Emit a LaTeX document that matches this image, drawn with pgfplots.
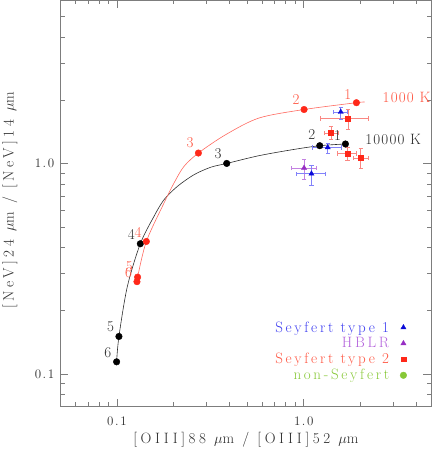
\documentclass[border=0pt]{standalone}
\usepackage{fontspec}
\setmainfont{Latin Modern Roman}[LetterSpace=24]
\usepackage{pgfplots}
\pgfplotsset{compat=1.18}
\usetikzlibrary{calc}

\definecolor{axisgrey}{RGB}{125,125,125}
\definecolor{textgrey}{RGB}{45,45,45}
\definecolor{hotred}{RGB}{255,40,25}
\definecolor{redtxt}{RGB}{255,85,65}
\definecolor{redline}{RGB}{255,105,95}
\definecolor{redbar}{RGB}{250,135,130}
\definecolor{sey1}{RGB}{10,10,215}
\definecolor{sey1txt}{RGB}{60,60,240}
\definecolor{sey1bar}{RGB}{130,130,250}
\definecolor{hblr}{RGB}{150,45,195}
\definecolor{hblrtxt}{RGB}{180,100,220}
\definecolor{hblrbar}{RGB}{195,130,225}
\definecolor{nonsey}{RGB}{135,200,55}

\newcommand{\lbfont}{\fontsize{15}{18}\selectfont}

\begin{document}
\begin{tikzpicture}[font=\lbfont]
\begin{axis}[
    xmode=log, ymode=log,
    scale only axis,
    width=370.3pt, height=406.7pt,
    xmin=0.05, xmax=4.8,
    ymin=0.07, ymax=6,
    xtick={0.1,1}, xticklabels={0.1,1.0},
    ytick={0.1,1}, yticklabels={0.1,1.0},
    minor xtick={0.06,0.07,0.08,0.09,0.2,0.3,0.4,0.5,0.6,0.7,0.8,0.9,2,3,4},
    minor ytick={0.08,0.09,0.2,0.3,0.4,0.5,0.6,0.7,0.8,0.9,2,3,4,5},
    axis line style={axisgrey, line width=0.8pt},
    tick style={axisgrey, line width=0.6pt},
    major tick length=7.7pt, minor tick length=4.3pt,
    tick label style={font=\fontsize{13}{15}\selectfont\addfontfeatures{LetterSpace=12}, textgrey},
    xticklabel style={yshift=-7pt},
    yticklabel style={xshift=-3pt},
    clip=false,
    legend cell align=right,
    legend plot pos=right,
    legend style={draw=none, fill=none, at={(0.935,0.057)}, anchor=south east,
                  inner sep=0pt, row sep=0pt, column sep=9pt,
                  nodes={font=\lbfont\addfontfeatures{LetterSpace=18}}},
]

  % model curves
  \addplot[textgrey, line width=0.6pt, smooth, tension=0.5, forget plot] coordinates {
    (0.0996,0.1144) (0.1025,0.151) (0.1137,0.261) (0.1334,0.4165) (0.1578,0.5615)
    (0.1786,0.674) (0.2106,0.780) (0.2585,0.8864) (0.3176,0.962) (0.387,1.003)
    (0.576,1.092) (0.870,1.166) (1.218,1.218) (1.672,1.241)
  };
  \addplot[redline, line width=0.6pt, smooth, tension=0.5, forget plot] coordinates {
    (0.128,0.275) (0.129,0.289) (0.1437,0.427) (0.1786,0.650) (0.202,0.809)
    (0.2285,0.971) (0.273,1.124) (0.382,1.374) (0.576,1.649) (1.004,1.81)
    (1.915,1.95) (2.12,1.965)
  };

  % model grid points
  \addplot[only marks, mark=*, mark size=3.3pt, black, forget plot] coordinates {
    (1.672,1.241) (1.218,1.218) (0.387,1.003) (0.1334,0.4165) (0.1025,0.151) (0.0996,0.1144)
  };
  \addplot[only marks, mark=*, mark size=3.3pt, hotred, forget plot] coordinates {
    (1.915,1.95) (1.004,1.81) (0.273,1.124) (0.1437,0.427) (0.129,0.289) (0.128,0.275)
  };

  % Seyfert type 2
  \addplot[only marks, mark=square*, mark size=2.4pt, hotred, forget plot,
    error bars/.cd, x dir=both, x explicit, y dir=both, y explicit,
    error bar style={redbar, line width=0.6pt},
    error mark options={rotate=90, redbar, mark size=2.2pt, line width=0.6pt}]
    coordinates {
    (1.727,1.642) += (0.502,0.18) -= (0.504,0.18)
    (1.40,1.40)   += (0.127,0.10) -= (0.115,0.10)
    (1.714,1.116) += (0.19,0.08)  -= (0.2,0.08)
    (2.02,1.064)  += (0.2,0.117)  -= (0.18,0.117)
  };
  % HBLR
  \addplot[only marks, mark=triangle*, mark size=3pt, hblr, forget plot,
    error bars/.cd, x dir=both, x explicit, y dir=both, y explicit,
    error bar style={hblrbar, line width=0.6pt},
    error mark options={rotate=90, hblrbar, mark size=2.2pt, line width=0.6pt}]
    coordinates {
    (1.004,0.954) += (0.166,0.099) -= (0.145,0.115)
  };
  % Seyfert type 1
  \addplot[only marks, mark=triangle*, mark size=3pt, sey1, forget plot,
    error bars/.cd, x dir=both, x explicit, y dir=both, y explicit,
    error bar style={sey1bar, line width=0.6pt},
    error mark options={rotate=90, sey1bar, mark size=2.2pt, line width=0.6pt}]
    coordinates {
    (1.578,1.762)  += (0.137,0.098) -= (0.135,0.132)
    (1.344,1.195)  += (0.240,0.05)  -= (0.231,0.079)
    (1.0995,0.896) += (0.21,0.09)   -= (0.19,0.104)
  };

  % point labels
  \begin{scope}[every node/.append style={font=\lbfont\addfontfeatures{LetterSpace=8}}]
  \node[textgrey] at (axis cs:1.515,1.359) {1};
  \node[textgrey] at (axis cs:1.104,1.374) {2};
  \node[textgrey] at (axis cs:0.3475,1.116) {3};
  \node[textgrey] at (axis cs:0.1194,0.4597) {4};
  \node[textgrey] at (axis cs:0.0925,0.1684) {5};
  \node[textgrey] at (axis cs:0.0895,0.1267) {6};
  \node[redtxt] at (axis cs:1.72,2.13) {1};
  \node[redtxt] at (axis cs:0.91,2.015) {2};
  \node[redtxt] at (axis cs:0.246,1.254) {3};
  \node[redtxt] at (axis cs:0.1296,0.4713) {4};
  \node[redtxt] at (axis cs:0.1165,0.3237) {5};
  \node[redtxt] at (axis cs:0.1155,0.303) {6};
  \node[redtxt, anchor=west, inner sep=0pt] at (axis cs:2.64,2.075) {1000 K};
  \node[textgrey, anchor=west, inner sep=0pt] at (axis cs:2.13,1.30) {10000 K};
  \end{scope}

  % axis titles
  \node[textgrey] at (axis description cs:0.5,-0.0807)
    {[OIII]88 $\mu$m / [OIII]52 $\mu$m};
  \node[textgrey, rotate=90] at (axis description cs:-0.137,0.508)
    {[NeV]24 $\mu$m / [NeV]14 $\mu$m};

  % legend
  \addlegendimage{only marks, mark=triangle*, mark size=3pt, sey1}
  \addlegendentry{\textcolor{sey1txt}{Seyfert type 1}}
  \addlegendimage{only marks, mark=triangle*, mark size=3pt, hblr}
  \addlegendentry{\textcolor{hblrtxt}{HBLR}}
  \addlegendimage{only marks, mark=square*, mark size=2.4pt, hotred}
  \addlegendentry{\textcolor{redtxt}{Seyfert type 2}}
  \addlegendimage{only marks, mark=*, mark size=3.3pt, nonsey}
  \addlegendentry{\textcolor{nonsey}{non-Seyfert}}

\end{axis}
\pgfresetboundingbox
\path ($(current axis.south west)+(-60.7pt,-50.3pt)$) rectangle ($(current axis.north east)+(5pt,0pt)$);
\end{tikzpicture}
\end{document}
